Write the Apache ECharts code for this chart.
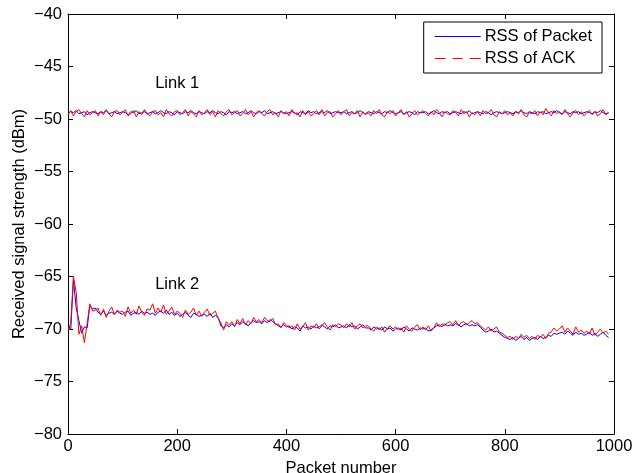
<!DOCTYPE html>
<html>
<head>
<meta charset="utf-8">
<script src="https://cdn.jsdelivr.net/npm/echarts@6/dist/echarts.min.js"></script>
<style>
  html, body { margin: 0; padding: 0; background: #fff; }
  #chart { width: 636px; height: 473px; }
</style>
</head>
<body>
<div id="chart"></div>
<script>
// one sample every STEP packets
const STEP = 5;

const link1Packet = [
  -49.5,-49.3,-49.4,-49.2,-49.5,-49.4,-49.3,-49.6,-49.4,-49.3,
  -49.4,-49.5,-49.3,-49.4,-49.2,-49.5,-49.4,-49.3,-49.5,-49.4,
  -49.3,-49.4,-49.6,-49.3,-49.4,-49.2,-49.5,-49.4,-49.3,-49.5,
  -49.4,-49.3,-49.5,-49.4,-49.2,-49.4,-49.5,-49.3,-49.4,-49.6,
  -49.3,-49.4,-49.5,-49.3,-49.4,-49.2,-49.4,-49.5,-49.3,-49.4,
  -49.5,-49.3,-49.4,-49.2,-49.4,-49.5,-49.3,-49.4,-49.6,-49.3,
  -49.4,-49.3,-49.5,-49.4,-49.3,-49.5,-49.4,-49.2,-49.4,-49.5,
  -49.3,-49.4,-49.2,-49.5,-49.4,-49.3,-49.5,-49.4,-49.3,-49.4,
  -49.5,-49.4,-49.3,-49.4,-49.6,-49.3,-49.4,-49.5,-49.2,-49.4,
  -49.3,-49.5,-49.4,-49.3,-49.4,-49.2,-49.5,-49.4,-49.3,-49.4,
  -49.4,-49.3,-49.5,-49.4,-49.3,-49.5,-49.4,-49.2,-49.4,-49.5,
  -49.3,-49.4,-49.5,-49.3,-49.4,-49.5,-49.3,-49.4,-49.2,-49.4,
  -49.5,-49.4,-49.3,-49.5,-49.4,-49.3,-49.4,-49.6,-49.3,-49.4,
  -49.4,-49.3,-49.5,-49.4,-49.2,-49.4,-49.5,-49.3,-49.4,-49.3,
  -49.5,-49.4,-49.3,-49.4,-49.5,-49.3,-49.4,-49.2,-49.5,-49.4,
  -49.3,-49.4,-49.5,-49.3,-49.4,-49.6,-49.4,-49.3,-49.4,-49.5,
  -49.4,-49.3,-49.4,-49.5,-49.3,-49.4,-49.2,-49.4,-49.5,-49.3,
  -49.4,-49.5,-49.3,-49.4,-49.3,-49.5,-49.4,-49.3,-49.4,-49.2,
  -49.4,-49.5,-49.3,-49.4,-49.5,-49.3,-49.4,-49.3,-49.5,-49.4,
  -49.3,-49.4,-49.5,-49.3,-49.4,-49.2,-49.4,-49.5,-49.4
];

const link1Ack = [
  -49.6,-49.2,-49.7,-49.3,-49.1,-49.5,-49.8,-49.2,-49.6,-49.4,
  -49.2,-49.7,-49.3,-49.6,-49.1,-49.5,-49.8,-49.3,-49.2,-49.6,
  -49.4,-49.1,-49.7,-49.5,-49.2,-49.8,-49.3,-49.6,-49.1,-49.5,
  -49.7,-49.3,-49.2,-49.6,-49.4,-49.8,-49.1,-49.5,-49.7,-49.3,
  -49.2,-49.6,-49.4,-49.1,-49.7,-49.3,-49.5,-49.8,-49.2,-49.6,
  -49.4,-49.1,-49.6,-49.3,-49.8,-49.2,-49.5,-49.7,-49.3,-49.1,
  -49.6,-49.4,-49.2,-49.7,-49.5,-49.1,-49.6,-49.3,-49.8,-49.4,
  -49.2,-49.5,-49.7,-49.3,-49.1,-49.6,-49.4,-49.8,-49.2,-49.5,
  -49.3,-49.7,-49.1,-49.5,-49.4,-49.8,-49.2,-49.6,-49.3,-49.7,
  -49.5,-49.2,-49.6,-49.1,-49.7,-49.4,-49.3,-49.8,-49.5,-49.2,
  -49.6,-49.3,-49.1,-49.7,-49.4,-49.5,-49.2,-49.8,-49.3,-49.6,
  -49.4,-49.7,-49.2,-49.5,-49.1,-49.6,-49.8,-49.3,-49.5,-49.2,
  -49.7,-49.4,-49.1,-49.6,-49.3,-49.8,-49.5,-49.2,-49.6,-49.4,
  -49.2,-49.5,-49.7,-49.3,-49.6,-49.1,-49.4,-49.8,-49.3,-49.5,
  -49.6,-49.2,-49.4,-49.7,-49.1,-49.5,-49.3,-49.8,-49.4,-49.6,
  -49.3,-49.7,-49.2,-49.5,-49.4,-49.1,-49.6,-49.8,-49.3,-49.5,
  -49.2,-49.6,-49.4,-49.7,-49.3,-49.5,-49.1,-49.6,-49.8,-49.4,
  -49.5,-49.2,-49.7,-49.3,-49.6,-49.0,-49.4,-49.7,-49.2,-49.5,
  -49.3,-49.6,-49.1,-49.5,-49.8,-49.4,-49.2,-49.6,-49.3,-49.7,
  -49.4,-49.2,-49.6,-49.3,-49.7,-49.5,-49.1,-49.6,-49.4
];

const link2Packet = [
  -69.6,-70.1,-65.3,-68.0,-69.2,-70.4,-69.8,-69.9,-67.8,-68.1,
  -68.0,-68.4,-68.6,-68.3,-68.7,-68.5,-68.4,-68.6,-68.3,-68.5,
  -68.6,-68.4,-68.3,-68.7,-68.5,-68.4,-68.6,-68.3,-68.5,-68.4,
  -68.6,-68.5,-68.7,-68.4,-68.3,-68.5,-68.2,-68.6,-68.4,-68.7,
  -68.5,-68.8,-68.6,-68.4,-68.7,-68.9,-68.5,-68.6,-68.8,-68.7,
  -68.6,-68.8,-68.5,-68.9,-68.7,-68.9,-69.7,-69.9,-69.6,-69.8,
  -69.5,-69.7,-69.4,-69.6,-69.3,-69.5,-69.7,-69.4,-69.2,-69.4,
  -69.3,-69.5,-69.2,-69.4,-69.1,-69.3,-69.5,-69.7,-69.8,-69.6,
  -69.8,-69.7,-70.0,-69.8,-69.9,-70.2,-69.7,-69.9,-69.8,-70.0,
  -69.7,-69.9,-69.8,-69.6,-69.8,-70.0,-69.7,-69.8,-69.6,-69.9,
  -69.8,-69.7,-69.9,-69.6,-69.8,-69.7,-70.0,-69.8,-69.6,-69.9,
  -69.9,-70.1,-69.8,-70.0,-69.9,-70.1,-69.8,-70.0,-69.9,-70.2,
  -70.0,-69.9,-70.1,-69.8,-70.0,-70.2,-69.9,-70.0,-70.1,-69.9,
  -70.0,-69.9,-70.2,-70.1,-69.9,-69.7,-69.6,-69.8,-69.5,-69.7,
  -69.6,-69.7,-69.5,-69.6,-69.8,-69.6,-69.5,-69.7,-69.6,-69.7,
  -69.6,-69.8,-70.1,-70.3,-70.2,-70.0,-70.3,-70.2,-70.4,-70.6,
  -70.8,-70.9,-71.0,-70.8,-71.1,-70.9,-70.7,-71.0,-70.8,-71.1,
  -70.9,-70.8,-71.0,-70.7,-70.9,-70.8,-70.6,-70.7,-70.4,-70.5,
  -70.4,-70.3,-70.5,-70.2,-70.4,-70.6,-70.3,-70.5,-70.4,-70.6,
  -70.5,-70.3,-70.6,-70.4,-70.7,-70.5,-70.3,-70.6,-70.8
];

const link2Ack = [
  -70.2,-69.4,-65.0,-66.5,-70.5,-69.7,-71.3,-69.5,-67.6,-68.3,
  -68.2,-68.0,-68.7,-68.1,-68.9,-68.3,-67.9,-68.6,-68.2,-68.4,
  -68.3,-68.8,-67.9,-68.5,-68.2,-68.6,-67.8,-68.4,-68.7,-68.1,
  -68.2,-67.6,-68.5,-68.0,-68.4,-67.7,-68.6,-68.3,-67.9,-68.6,
  -68.3,-68.5,-68.9,-68.2,-68.6,-68.4,-68.0,-68.7,-68.3,-68.8,
  -68.4,-68.1,-68.7,-68.5,-68.3,-69.0,-69.4,-70.1,-69.3,-69.6,
  -69.3,-69.8,-69.1,-69.5,-69.0,-69.6,-69.2,-69.5,-68.9,-69.3,
  -69.1,-69.4,-68.9,-69.2,-69.3,-69.0,-69.6,-69.5,-69.9,-69.4,
  -69.6,-69.9,-69.7,-70.1,-69.5,-70.0,-69.8,-69.4,-70.1,-69.7,
  -69.9,-69.5,-70.0,-69.7,-69.4,-69.8,-70.1,-69.6,-69.8,-69.5,
  -69.6,-69.9,-69.5,-69.8,-69.4,-70.0,-69.7,-69.5,-69.9,-69.7,
  -69.7,-70.0,-70.2,-69.8,-70.1,-69.8,-70.3,-69.9,-69.7,-70.0,
  -69.8,-70.1,-69.9,-70.3,-69.7,-70.0,-70.2,-69.8,-69.6,-70.1,
  -69.8,-70.1,-69.7,-70.2,-69.9,-69.4,-69.8,-69.5,-69.7,-69.4,
  -69.3,-69.6,-69.2,-69.7,-69.4,-69.3,-69.6,-69.4,-69.2,-69.5,
  -69.4,-69.7,-69.9,-70.1,-69.8,-70.2,-70.0,-69.8,-70.3,-70.4,
  -70.6,-70.8,-70.7,-71.0,-70.7,-70.9,-70.5,-70.8,-70.6,-70.9,
  -70.7,-71.0,-70.6,-70.8,-70.5,-70.9,-70.4,-70.3,-69.9,-70.2,
  -70.0,-69.7,-70.3,-69.9,-70.2,-70.5,-69.8,-70.3,-70.1,-70.4,
  -70.2,-70.5,-69.9,-70.6,-70.3,-70.0,-70.4,-70.2,-70.5
];

const xTicks = { min: 0, max: 1000, interval: 200 };
const yTicks = { min: -80, max: -40, interval: 5 };
const linkLabels = [
  { name: 'Link 1', coord: [200, -46.6] },
  { name: 'Link 2', coord: [200, -65.8] }
];

const FONT = 'Liberation Sans, Arial, Helvetica, sans-serif';
const FS = 16.5;
const BLUE = '#0000ff';
const RED = '#ff0000';

const toPairs = (arr) => arr.map((v, i) => [i * STEP, v]);
const minus = (v) => String(v).replace('-', '\u2212');

// legend swatches as rich-text bars (solid for packet, dashed for ACK)
const legendSwatch = (name) => name === 'RSS of Packet'
  ? '{b|}{sp|}' + name
  : '{r|}{gp|}{r2|}{gp|}{r|}{sp|}' + name;

const chart = echarts.init(document.getElementById('chart'), null, { renderer: 'canvas' });

const axisCommon = {
  axisLine: { show: true, onZero: false, lineStyle: { color: '#000', width: 1 } },
  axisTick: { show: true, inside: true, length: 5, lineStyle: { color: '#000' } },
  splitLine: { show: false }
};

const lineSeries = (name, data, color, z) => ({
  name: name,
  type: 'line',
  data: toPairs(data),
  symbol: 'none',
  showSymbol: false,
  z: z,
  lineStyle: { color: color, width: 1 },
  itemStyle: { color: color }
});

const option = {
  backgroundColor: '#fff',
  animation: false,
  grid: { left: 68, right: 22, top: 14, bottom: 39, containLabel: false, outerBoundsMode: 'none' },
  legend: {
    show: true,
    orient: 'vertical',
    right: 34,
    top: 22,
    padding: [5, 10, 5, 5],
    itemGap: 3,
    itemWidth: 0,
    itemHeight: 0,
    backgroundColor: '#fff',
    borderColor: '#000',
    borderWidth: 1,
    formatter: legendSwatch,
    textStyle: {
      fontFamily: FONT, fontSize: FS, color: '#000', lineHeight: 19,
      rich: {
        b: { width: 46, height: 1, backgroundColor: BLUE },
        r: { width: 11, height: 1, backgroundColor: RED },
        r2: { width: 10, height: 1, backgroundColor: RED },
        gp: { width: 7, height: 1 },
        sp: { width: 4, height: 1 }
      }
    },
    data: ['RSS of Packet', 'RSS of ACK']
  },
  xAxis: [
    Object.assign({}, axisCommon, {
      type: 'value',
      position: 'bottom',
      min: xTicks.min, max: xTicks.max, interval: xTicks.interval,
      name: 'Packet number',
      nameLocation: 'middle',
      nameGap: 23,
      nameTextStyle: { fontFamily: FONT, fontSize: FS, color: '#000' },
      axisLabel: { fontFamily: FONT, fontSize: FS, color: '#000', margin: 4, formatter: (v) => String(v) }
    }),
    Object.assign({}, axisCommon, {
      type: 'value',
      position: 'top',
      min: xTicks.min, max: xTicks.max, interval: xTicks.interval,
      axisLabel: { show: false }
    })
  ],
  yAxis: [
    Object.assign({}, axisCommon, {
      type: 'value',
      position: 'left',
      min: yTicks.min, max: yTicks.max, interval: yTicks.interval,
      name: 'Received signal strength (dBm)',
      nameLocation: 'middle',
      nameGap: 40,
      nameMoveOverlap: false,
      nameRotate: 90,
      nameTextStyle: { fontFamily: FONT, fontSize: FS, color: '#000' },
      axisLabel: { fontFamily: FONT, fontSize: FS, color: '#000', margin: 6, formatter: minus }
    }),
    Object.assign({}, axisCommon, {
      type: 'value',
      position: 'right',
      min: yTicks.min, max: yTicks.max, interval: yTicks.interval,
      axisLabel: { show: false }
    })
  ],
  series: [
    lineSeries('RSS of Packet', link1Packet, BLUE, 2),
    lineSeries('RSS of ACK', link1Ack, RED, 3),
    lineSeries('RSS of Packet', link2Packet, BLUE, 2),
    Object.assign(lineSeries('RSS of ACK', link2Ack, RED, 3), {
      markPoint: {
        symbol: 'circle',
        symbolSize: 0,
        silent: true,
        label: {
          show: true,
          position: 'inside',
          formatter: '{b}',
          fontFamily: FONT,
          fontSize: FS,
          color: '#000'
        },
        data: linkLabels.map((l) => ({ name: l.name, coord: l.coord }))
      }
    })
  ]
};

chart.setOption(option);
</script>
</body>
</html>
